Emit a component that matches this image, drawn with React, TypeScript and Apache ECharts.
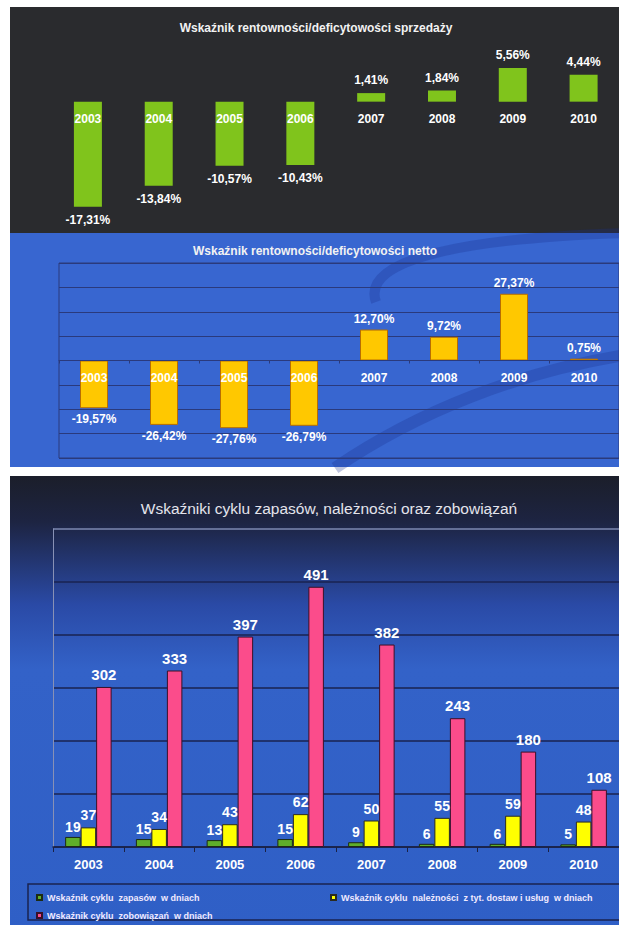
import React, { useEffect, useRef } from "react";
import * as echarts from "echarts";

const years = ["2003", "2004", "2005", "2006", "2007", "2008", "2009", "2010"];
const salesMargin = [-17.31, -13.84, -10.57, -10.43, 1.41, 1.84, 5.56, 4.44];
const netMargin = [-19.57, -26.42, -27.76, -26.79, 12.7, 9.72, 27.37, 0.75];
const inventoryDays = [19, 15, 13, 15, 9, 6, 6, 5];
const receivableDays = [37, 34, 43, 62, 50, 55, 59, 48];
const payableDays = [302, 333, 397, 491, 382, 243, 180, 108];

const title1 = "Wskaźnik rentowności/deficytowości sprzedaży";
const title2 = "Wskaźnik rentowności/deficytowości netto";
const title3 = "Wskaźniki cyklu zapasów, należności oraz zobowiązań";
const name1 = "Wskaźnik cyklu  zapasów  w dniach";
const name2 = "Wskaźnik cyklu  należności  z tyt. dostaw i usług  w dniach";
const name3 = "Wskaźnik cyklu  zobowiązań  w dniach";

const FONT = "'Liberation Sans', Arial, sans-serif";

const pct = (p: any) => Number(p.value).toFixed(2).replace(".", ",") + "%";

// grid geometry (pixels)
const G1 = { top: 41, height: 182, min: -20, max: 10 };
const G2 = { top: 263, height: 195, min: -40, max: 40 };
const zeroOffset = (g: { height: number; min: number; max: number }) =>
  -(g.height * (0 - g.min)) / (g.max - g.min);

export default function App() {
  const ref = useRef<HTMLDivElement>(null);
  useEffect(() => {
    if (!ref.current) return;
    const chart = echarts.init(ref.current, undefined, { renderer: "svg" });

    const signed = (vals: number[], dist: number) =>
      vals.map((v) => ({
        value: v,
        label: { position: v >= 0 ? "top" : "bottom", distance: dist },
      }));

    const valLabel = {
      show: true,
      color: "#ffffff",
      fontWeight: "bold",
      fontSize: 12,
      fontFamily: FONT,
      formatter: pct,
    };

    const bgGradient = new echarts.graphic.LinearGradient(0, 0, 0, 1, [
      { offset: 0, color: "#1b1e2a" },
      { offset: 0.1, color: "#1d2442" },
      { offset: 0.28, color: "#2a4aa6" },
      { offset: 0.42, color: "#3362c8" },
      { offset: 1, color: "#2f5fc6" },
    ]);

    const legendText = { color: "#f0eaff", fontSize: 9, fontWeight: "bold", fontFamily: FONT };

    chart.setOption({
      animation: false,
      backgroundColor: "#ffffff",
      graphic: [
        { type: "rect", z: -10, shape: { x: 10, y: 7, width: 620, height: 226 }, style: { fill: "#2a2b2e" } },
        { type: "rect", z: -10, shape: { x: 10, y: 233, width: 620, height: 234 }, style: { fill: "#3866d0" } },
        {
          type: "bezierCurve",
          z: -9,
          shape: { x1: 625, y1: 233, cpx1: 470, cpy1: 238, cpx2: 360, cpy2: 258, x2: 376, y2: 302 },
          style: { stroke: "rgba(25,45,140,0.28)", lineWidth: 10, fill: "none" },
        },
        {
          type: "bezierCurve",
          z: -9,
          shape: { x1: 335, y1: 468, cpx1: 420, cpy1: 410, cpx2: 520, cpy2: 372, x2: 625, y2: 355 },
          style: { stroke: "rgba(25,45,140,0.28)", lineWidth: 12, fill: "none" },
        },
        { type: "rect", z: -10, shape: { x: 10, y: 476, width: 620, height: 460 }, style: { fill: bgGradient } },
        {
          type: "rect",
          z: -8,
          shape: { x: 28, y: 884, width: 600, height: 36 },
          style: { fill: "none", stroke: "#1a2350", lineWidth: 1.5 },
        },
        {
          type: "text",
          z: 20,
          style: { text: title1, x: 316, y: 28, textAlign: "center", textVerticalAlign: "middle", fill: "#f2f2f2", font: `bold 12px ${FONT}` },
        },
        {
          type: "text",
          z: 20,
          style: { text: title2, x: 315, y: 251, textAlign: "center", textVerticalAlign: "middle", fill: "#f2f2f2", font: `bold 12px ${FONT}` },
        },
        {
          type: "text",
          z: 20,
          style: { text: title3, x: 329, y: 508, textAlign: "center", textVerticalAlign: "middle", fill: "#e4e4ec", font: `15.5px ${FONT}` },
        },
      ],
      legend: [
        { data: [name1], left: 31, top: 888, icon: "rect", itemWidth: 5, itemHeight: 5, textStyle: legendText },
        { data: [name2], left: 325, top: 888, icon: "rect", itemWidth: 5, itemHeight: 5, textStyle: legendText },
        { data: [name3], left: 31, top: 906, icon: "rect", itemWidth: 5, itemHeight: 5, textStyle: legendText },
      ],
      grid: [
        { left: 52.5, top: G1.top, width: 568, height: G1.height },
        { left: 59, top: G2.top, width: 564, height: G2.height, show: true, borderColor: "#2a3a7c", borderWidth: 1 },
        { left: 53, top: 529, width: 568, height: 318 },
      ],
      xAxis: [
        {
          gridIndex: 0, type: "category", data: years, z: 10,
          offset: zeroOffset(G1),
          axisLine: { show: false },
          axisTick: { show: false },
          axisLabel: { color: "#ffffff", fontWeight: "bold", fontSize: 12, fontFamily: FONT, margin: 11 },
        },
        {
          gridIndex: 1, type: "category", data: years, z: 10,
          offset: zeroOffset(G2),
          axisLine: { show: true, lineStyle: { color: "#2a3a7c" } },
          axisTick: { show: true, length: 3, lineStyle: { color: "#2a3a7c" } },
          axisLabel: { color: "#ffffff", fontWeight: "bold", fontSize: 12, fontFamily: FONT, margin: 11 },
        },
        {
          gridIndex: 2, type: "category", data: years,
          axisLine: { show: true, lineStyle: { color: "#1a2145", width: 1.5 } },
          axisTick: { show: true, length: 5, lineStyle: { color: "#1a2145" } },
          axisLabel: { color: "#ffffff", fontWeight: "bold", fontSize: 13, fontFamily: FONT, margin: 11 },
        },
      ],
      yAxis: [
        {
          gridIndex: 0, type: "value", min: G1.min, max: G1.max, interval: 10,
          axisLabel: { show: false }, axisLine: { show: false }, axisTick: { show: false }, splitLine: { show: false },
        },
        {
          gridIndex: 1, type: "value", min: G2.min, max: G2.max, interval: 10,
          axisLabel: { show: false }, axisLine: { show: false }, axisTick: { show: false },
          splitLine: { show: true, lineStyle: { color: "#2a3a7c", width: 1 } },
        },
        {
          gridIndex: 2, type: "value", min: 0, max: 600, interval: 100,
          axisLabel: { show: false }, axisTick: { show: false },
          axisLine: { show: true, lineStyle: { color: "#8891b5" } },
          splitLine: {
            show: true,
            lineStyle: {
              color: ["#1a2350", "#1a2350", "#1a2350", "#1a2350", "#1a2350", "#1a2350", "#7d88b0"],
              width: 1.5,
            },
          },
        },
      ],
      series: [
        {
          type: "bar", xAxisIndex: 0, yAxisIndex: 0, barWidth: 28,
          itemStyle: { color: "#80c41c" },
          label: valLabel,
          data: signed(salesMargin, 7),
        },
        {
          type: "bar", xAxisIndex: 1, yAxisIndex: 1, barWidth: 28,
          itemStyle: { color: "#ffc800", borderColor: "#b86e00", borderWidth: 1 },
          label: valLabel,
          data: signed(netMargin, 5),
        },
        {
          type: "bar", name: name1, xAxisIndex: 2, yAxisIndex: 2, barWidth: 15.5, barGap: "0%",
          itemStyle: { color: "#5fae2a", borderColor: "#1d2b12", borderWidth: 1 },
          label: { show: true, position: "top", distance: 3, color: "#ffffff", fontWeight: "bold", fontSize: 14, fontFamily: FONT },
          data: inventoryDays,
        },
        {
          type: "bar", name: name2, xAxisIndex: 2, yAxisIndex: 2, barWidth: 15.5, barGap: "0%",
          itemStyle: { color: "#ffff00", borderColor: "#2b2b20", borderWidth: 1 },
          label: { show: true, position: "top", distance: 5, color: "#ffffff", fontWeight: "bold", fontSize: 14, fontFamily: FONT },
          data: receivableDays,
        },
        {
          type: "bar", name: name3, xAxisIndex: 2, yAxisIndex: 2, barWidth: 15.5, barGap: "0%",
          itemStyle: { color: "#fb4c8b", borderColor: "#3a1028", borderWidth: 1 },
          label: { show: true, position: "top", distance: 5, color: "#ffffff", fontWeight: "bold", fontSize: 15, fontFamily: FONT },
          data: payableDays,
        },
      ],
    });
    return () => chart.dispose();
  }, []);

  return (
    <div
      ref={ref}
      style={{ position: "absolute", left: 0, top: 0, width: 619, height: 925 }}
    />
  );
}
